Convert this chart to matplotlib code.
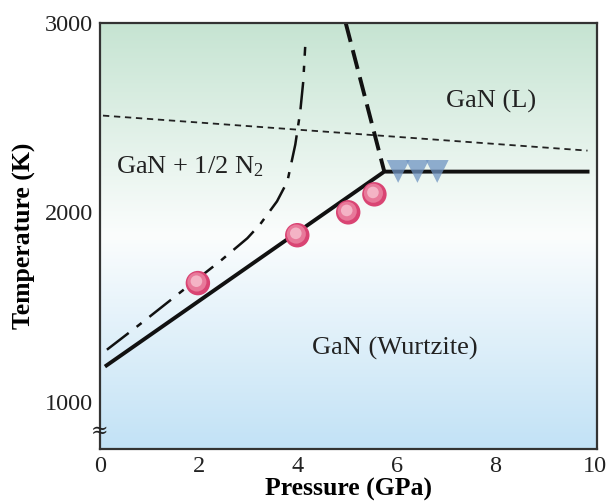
import numpy as np
import matplotlib
matplotlib.use("Agg")
import matplotlib.pyplot as plt
from matplotlib.colors import LinearSegmentedColormap

plt.rcParams['font.family'] = ['Liberation Serif', 'DejaVu Serif']
plt.rcParams['mathtext.fontset'] = 'custom'
plt.rcParams['mathtext.rm'] = 'Liberation Serif'
plt.rcParams['mathtext.it'] = 'Liberation Serif:italic'

# phase boundaries (pressure GPa, temperature K)
melt_p = [0.1, 5.75, 9.9]
melt_t = [1185, 2215, 2215]

decomp_p = [0.14, 0.87, 1.76, 2.43, 2.98, 3.24, 3.58, 3.79, 3.95, 4.05, 4.11, 4.15]
decomp_t = [1274, 1421, 1605, 1742, 1863, 1937, 2058, 2163, 2358, 2532, 2689, 2874]

liq_p = [4.97, 5.75]
liq_t = [3000, 2215]

upper_p = [0.06, 9.86]
upper_t = [2511, 2326]

# experimental points
circ_p = [1.98, 3.99, 5.02, 5.55]
circ_t = [1626, 1879, 2000, 2095]
tri_p = [6.03, 6.42, 6.82]
tri_t = [2216, 2216, 2216]

xticks = [0, 2, 4, 6, 8, 10]
yticks = [1000, 2000, 3000]

fig = plt.figure(figsize=(6.06, 5.01), dpi=100)
ax = fig.add_axes([0.165, 0.104, 0.820, 0.850])
ax.set_xlim(0, 10.05)
ax.set_ylim(750, 3000)

# background gradient green -> white -> blue
cmap = LinearSegmentedColormap.from_list(
    'bg', [(0.0, '#c2e2f6'), (0.5, '#fbfdfd'), (1.0, '#c6e4d2')])
grad = np.linspace(0, 1, 256).reshape(-1, 1)
ax.imshow(grad, cmap=cmap, aspect='auto', origin='lower',
          extent=[0, 10.05, 750, 3000], zorder=0)

ax.plot(upper_p, upper_t, color='#222222', lw=1.3, dashes=(3.5, 2.6), zorder=2)
ax.plot(decomp_p, decomp_t, color='#111111', lw=1.8,
        dashes=(11, 4, 2.5, 4), zorder=2)
ax.plot(liq_p, liq_t, color='#111111', lw=2.8, dashes=(5, 2.2), zorder=2)
ax.plot(melt_p, melt_t, color='#111111', lw=2.8, solid_capstyle='butt', zorder=3)

# shaded spheres
ax.scatter(circ_p, circ_t, s=310, color='#d94473', edgecolors='none', zorder=4)
ax.scatter(np.array(circ_p) - 0.02, np.array(circ_t) + 6, s=190,
           color='#e8799a', edgecolors='none', zorder=5)
ax.scatter(np.array(circ_p) - 0.03, np.array(circ_t) + 10, s=70,
           color='#f4b3c5', edgecolors='none', zorder=6)
ax.scatter(tri_p, tri_t, s=270, marker='v', color='#6f94c2', alpha=0.75,
           edgecolors='none', zorder=4)

ax.text(0.32, 2242, 'GaN + 1/2 N$_2$', fontsize=19, va='center', color='#222222')
ax.text(7.9, 2584, 'GaN (L)', fontsize=19, ha='center', va='center', color='#222222')
ax.text(5.97, 1279, 'GaN (Wurtzite)', fontsize=19, ha='center', va='center',
        color='#222222')
ax.text(0.0, 842, '≈', fontsize=15, ha='center', va='center',
        family=['DejaVu Serif'], color='#222222', zorder=7, clip_on=False)

ax.set_xticks(xticks)
ax.set_yticks(yticks)
ax.tick_params(length=0, labelsize=17.5, pad=5, colors='#222222')
for s in ax.spines.values():
    s.set_linewidth(1.6)
    s.set_color('#333333')

ax.set_xlabel('Pressure (GPa)', fontsize=18.5, fontweight='bold', labelpad=1)
ax.set_ylabel('Temperature (K)', fontsize=18.5, fontweight='bold', labelpad=6)

fig.savefig('out.png', dpi=100)
